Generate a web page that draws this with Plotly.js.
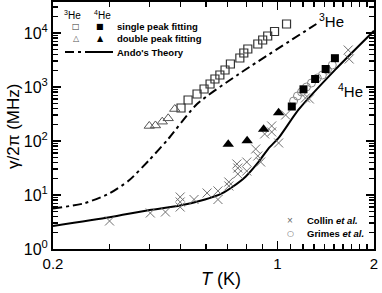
<!DOCTYPE html>
<html><head><meta charset="utf-8">
<script src="https://cdn.plot.ly/plotly-3.0.1.min.js"></script>
<style>html,body{margin:0;padding:0;background:#fff}#c{width:382px;height:293px}</style>
</head><body><div id="c"></div>
<script>
// 3He single-peak fitting (open squares)
const he3SingleT = [0.501,0.527,0.562,0.591,0.617,0.639,0.662,0.687,0.714,0.764,0.786,0.809,0.869,0.900,0.933,0.980,1.068];
const he3SingleG = [408,574,742,918,1137,1406,1668,2064,2667,3443,4262,5054,6258,7418,8797,10660,14680];
// 3He double-peak fitting (open triangles)
const he3DoubleT = [0.399,0.417,0.438,0.457,0.479];
const he3DoubleG = [190,194,228,263,391];
// 4He single-peak fitting (filled squares)
const he4SingleT = [1.109,1.206,1.311,1.414,1.511];
const he4SingleG = [435,906,1406,2154,3415];
// 4He double-peak fitting (filled triangles)
const he4DoubleT = [0.703,0.805,0.906,1.009];
const he4DoubleG = [86.9,101,165,334];
// Grimes et al. (open circles)
const grimesT = [1.123,1.155,1.189,1.232,1.277,1.332,1.381,1.431,1.483];
const grimesG = [550,681,808,1000,1186,1468,1668,2064,2555];
// Collin et al. (crosses)
const collinT = [0.300,0.402,0.448,0.498,0.498,0.498,0.550,0.604,0.653,0.653,0.706,0.706,0.748,0.753,0.753,0.803,0.803,0.856,0.869,0.887,0.913,0.960,0.960,1.009,1.061,1.223,1.258,1.662,1.674];
const collinG = [3.30,4.64,4.84,9.18,7.42,5.99,8.25,10.9,11.9,8.25,17.4,14.7,37.5,31.6,24.5,40.8,27.8,71.1,52.7,40.8,135,190,147,91.9,303,626,600,4842,3300];
// Ando's theory, 3He (dash-dot)
const ando3T = [0.2,0.25,0.300,0.346,0.399,0.454,0.562,0.759,1.323];
const ando3G = [5.62,7.0,10.7,18.9,44.5,104,484,1741,14680];
// Ando's theory, 4He (solid)
const ando4T = [0.2,0.3,0.4,0.498,0.595,0.672,0.722,0.796,0.875,0.939,1.009,1.164,1.515,2.0];
const ando4G = [2.67,3.86,5.28,6.39,8.25,10.7,13.9,21.8,41.4,73.2,114,380,2100,11000];
// ticks
const xTickVals = [0.2,1,2];
const xTickText = ['0.2','1','2'];
const xMinorVals = [0.3,0.4,0.5,0.6,0.7,0.8,0.9,1.1,1.2,1.3,1.4,1.5,1.6,1.7,1.8,1.9];
const yTickVals = [1,10,100,1000,10000];
const yTickText = ['10<sup>0</sup>','10<sup>1</sup>','10<sup>2</sup>','10<sup>3</sup>','10<sup>4</sup>'];
const yMinorVals = [2,3,4,5,6,7,8,9,20,30,40,50,60,70,80,90,200,300,400,500,600,700,800,900,2000,3000,4000,5000,6000,7000,8000,9000,20000,30000];

const FONT = 'Liberation Sans, Arial, Helvetica, sans-serif';
const traces = [
  {x: ando3T, y: ando3G, mode:'lines', line:{color:'#000', width:2, dash:'9px,4px,3px,4px', shape:'spline', smoothing:0.6}},
  {x: ando4T, y: ando4G, mode:'lines', line:{color:'#000', width:2, shape:'spline', smoothing:0.6}},
  {x: collinT, y: collinG, mode:'markers', marker:{symbol:'x-thin-open', size:9, color:'#707070', line:{color:'#707070', width:1}}},
  {x: grimesT, y: grimesG, mode:'markers', marker:{symbol:'circle-open', size:8, color:'#888', line:{color:'#888', width:1}}},
  {x: he3SingleT, y: he3SingleG, mode:'markers', marker:{symbol:'square-open', size:8, color:'#333', line:{color:'#333', width:1.2}}},
  {x: he3DoubleT, y: he3DoubleG, mode:'markers', marker:{symbol:'triangle-up-open', size:9, color:'#555', line:{color:'#555', width:1}}},
  {x: he4SingleT, y: he4SingleG, mode:'markers', marker:{symbol:'square', size:8, color:'#000'}},
  {x: he4DoubleT, y: he4DoubleG, mode:'markers', marker:{symbol:'triangle-up', size:10, color:'#000'}}
];

const axisCommon = {showline:true, linewidth:2, linecolor:'#000', mirror:'ticks', ticks:'inside', ticklen:8, tickwidth:1.5, tickcolor:'#000', showgrid:false, zeroline:false, tickfont:{family:FONT, size:15, color:'#000'}};

function px2x(p){return (p-53)/321;}
function py2y(p){return (249-p)/247;}
function ann(px, py, text, font, opts){
  return Object.assign({xref:'paper', yref:'paper', x:px2x(px), y:py2y(py), text:text, showarrow:false, xanchor:'center', yanchor:'middle', font:font}, opts||{});
}
const legendFont = {family:FONT, size:9.5, color:'#000'};
const annotations = [
  ann(331, 21, '<sup>3</sup>He', {family:FONT, size:15, color:'#000'}),
  ann(350, 90, '<sup>4</sup>He', {family:FONT, size:15, color:'#000'}),
  ann(72, 15, '<sup>3</sup>He', {family:FONT, size:10, color:'#000'}),
  ann(102, 15, '<sup>4</sup>He', {family:FONT, size:10, color:'#000'}),
  ann(76, 26, '□', {family:'DejaVu Sans', size:8, color:'#333333'}),
  ann(100, 26, '■', {family:'DejaVu Sans', size:8, color:'#000000'}),
  ann(115, 26, '<b>single peak fitting</b>', legendFont, {xanchor:'left'}),
  ann(76, 39, '△', {family:'DejaVu Sans', size:8, color:'#555555'}),
  ann(100, 39, '▲', {family:'DejaVu Sans', size:8, color:'#000000'}),
  ann(115, 39, '<b>double peak fitting</b>', legendFont, {xanchor:'left'}),
  ann(115, 52, "<b>Ando's Theory</b>", legendFont, {xanchor:'left'}),
  ann(290, 220, '×', {family:'Liberation Sans', size:10, color:'#666666'}),
  ann(305, 220, '<b>Collin <i>et al.</i></b>', legendFont, {xanchor:'left'}),
  ann(290, 233, '○', {family:'DejaVu Sans', size:8, color:'#666666'}),
  ann(305, 233, '<b>Grimes <i>et al.</i></b>', legendFont, {xanchor:'left'}),
  ann(221, 279, '<i>T</i> (K)', {family:FONT, size:18, color:'#000'}),
  ann(13, 127, 'γ/2π (MHz)', {family:FONT, size:17, color:'#000'}, {textangle:-90})
];
const shapes = [
  {type:'line', xref:'paper', yref:'paper', x0:px2x(65), x1:px2x(90), y0:py2y(52), y1:py2y(52), line:{color:'#000', width:2, dash:'9px,4px,3px,4px'}},
  {type:'line', xref:'paper', yref:'paper', x0:px2x(90), x1:px2x(113), y0:py2y(52), y1:py2y(52), line:{color:'#000', width:2}}
];

const layout = {
  width:382, height:293,
  margin:{l:53, r:8, t:2, b:44},
  paper_bgcolor:'#fff', plot_bgcolor:'#fff',
  showlegend:false,
  font:{family:FONT, color:'#000'},
  xaxis: Object.assign({}, axisCommon, {type:'log', range:[Math.log10(0.2), Math.log10(2)], tickmode:'array', tickvals:xTickVals, ticktext:xTickText,
    minor:{tickmode:'array', tickvals:xMinorVals, ticks:'inside', ticklen:5, tickwidth:1.5, tickcolor:'#000'}}),
  yaxis: Object.assign({}, axisCommon, {type:'log', range:[0, 4.574], tickmode:'array', tickvals:yTickVals, ticktext:yTickText,
    tickfont:{family:FONT, size:16, color:'#000'},
    minor:{tickmode:'array', tickvals:yMinorVals, ticks:'inside', ticklen:5, tickwidth:1.5, tickcolor:'#000'}}),
  annotations: annotations,
  shapes: shapes
};
Plotly.newPlot('c', traces, layout, {staticPlot:true, displayModeBar:false});
</script></body></html>
